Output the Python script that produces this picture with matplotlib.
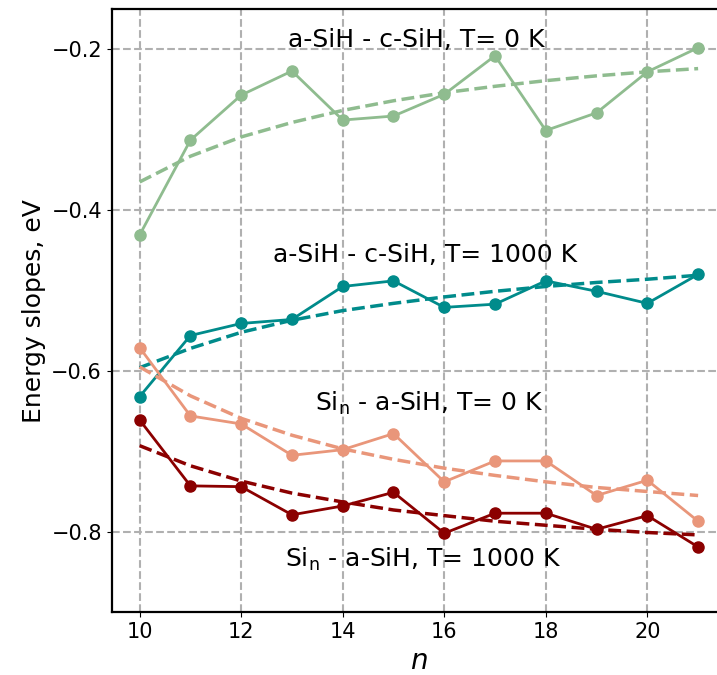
import matplotlib
matplotlib.use("Agg")
import matplotlib.pyplot as plt

# cluster size
n = [10, 11, 12, 13, 14, 15, 16, 17, 18, 19, 20, 21]

# a-SiH - c-SiH, T = 0 K
asih_csih_0k = [-0.431, -0.313, -0.257, -0.227, -0.288, -0.283, -0.256, -0.208,
                -0.301, -0.279, -0.228, -0.198]
asih_csih_0k_fit = [-0.365, -0.333, -0.309, -0.291, -0.276, -0.264, -0.254, -0.246,
                    -0.239, -0.233, -0.228, -0.224]

# a-SiH - c-SiH, T = 1000 K
asih_csih_1000k = [-0.632, -0.556, -0.541, -0.536, -0.495, -0.488, -0.521, -0.517,
                   -0.488, -0.501, -0.516, -0.480]
asih_csih_1000k_fit = [-0.596, -0.572, -0.552, -0.537, -0.525, -0.516, -0.508, -0.501,
                       -0.495, -0.490, -0.486, -0.481]

# Si_n - a-SiH, T = 0 K
sin_asih_0k = [-0.571, -0.656, -0.666, -0.705, -0.698, -0.678, -0.738, -0.712,
               -0.712, -0.755, -0.736, -0.787]
sin_asih_0k_fit = [-0.595, -0.631, -0.659, -0.680, -0.697, -0.710, -0.721, -0.730,
                   -0.738, -0.745, -0.750, -0.755]

# Si_n - a-SiH, T = 1000 K
sin_asih_1000k = [-0.661, -0.743, -0.744, -0.779, -0.768, -0.751, -0.802, -0.777,
                  -0.777, -0.797, -0.780, -0.819]
sin_asih_1000k_fit = [-0.693, -0.718, -0.737, -0.752, -0.763, -0.773, -0.780, -0.787,
                      -0.792, -0.797, -0.801, -0.804]

series = [
    (asih_csih_0k, asih_csih_0k_fit, "darkseagreen"),
    (asih_csih_1000k, asih_csih_1000k_fit, "darkcyan"),
    (sin_asih_0k, sin_asih_0k_fit, "darksalmon"),
    (sin_asih_1000k, sin_asih_1000k_fit, "darkred"),
]

fig = plt.figure(figsize=(7.17, 6.75), dpi=100)
ax = fig.add_axes([0.1558, 0.0932, 0.8568, 0.8933])

for vals, fit, col in series:
    ax.plot(n, vals, "-o", color=col, lw=2, ms=8)
    ax.plot(n, fit, "--", color=col, lw=2.5)

ax.text(15.44, -0.189, "a-SiH - c-SiH, T= 0 K", fontsize=18, ha="center", va="center")
ax.text(15.63, -0.456, "a-SiH - c-SiH, T= 1000 K", fontsize=18, ha="center", va="center")
ax.text(15.70, -0.640, r"Si$_\mathregular{n}$ - a-SiH, T= 0 K", fontsize=18,
        ha="center", va="center")
ax.text(15.58, -0.835, r"Si$_\mathregular{n}$ - a-SiH, T= 1000 K", fontsize=18,
        ha="center", va="center")

ax.set_xlim(9.45, 21.55)
ax.set_ylim(-0.9, -0.15)
ax.set_xticks([10, 12, 14, 16, 18, 20])
ax.set_yticks([-0.8, -0.6, -0.4, -0.2])
ax.tick_params(labelsize=15)
ax.set_xlabel("$n$", fontsize=20)
ax.set_ylabel("Energy slopes, eV", fontsize=18)

ax.grid(True, ls="--", lw=1.5, color="#b0b0b0")
for s in ax.spines.values():
    s.set_linewidth(1.6)

plt.savefig("out.png", dpi=100)
plt.close("all")
